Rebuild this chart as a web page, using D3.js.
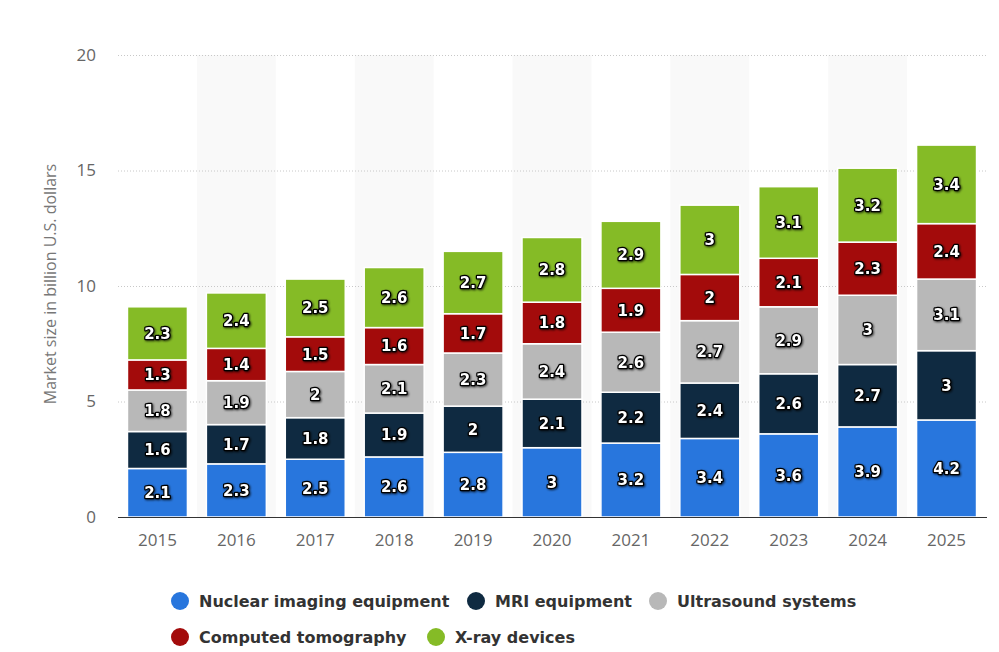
<!DOCTYPE html>
<html><head><meta charset="utf-8">
<script src="https://cdn.jsdelivr.net/npm/d3@7"></script>
<style>
body{margin:0;background:#fff;}
svg{display:block;}
</style></head>
<body><svg id="chart" width="999" height="652"></svg>
<script>
const years = ["2015","2016","2017","2018","2019","2020","2021","2022","2023","2024","2025"];
const seriesNames = ["Nuclear imaging equipment","MRI equipment","Ultrasound systems","Computed tomography","X-ray devices"];
const nuclear = [2.1,2.3,2.5,2.6,2.8,3,3.2,3.4,3.6,3.9,4.2];
const mri = [1.6,1.7,1.8,1.9,2,2.1,2.2,2.4,2.6,2.7,3];
const ultrasound = [1.8,1.9,2,2.1,2.3,2.4,2.6,2.7,2.9,3,3.1];
const ct = [1.3,1.4,1.5,1.6,1.7,1.8,1.9,2,2.1,2.3,2.4];
const xray = [2.3,2.4,2.5,2.6,2.7,2.8,2.9,3,3.1,3.2,3.4];
const yTicks = [0,5,10,15,20];
const colors = ["#2876dd","#0f2a41","#b8b8b8","#a30b0b","#85bb26"];

(function(){
const seriesValues = [nuclear, mri, ultrasound, ct, xray];
const table = years.map((yr,i)=>{const o={year:yr}; seriesNames.forEach((s,j)=>o[s]=seriesValues[j][i]); return o;});

const svg = d3.select("#chart");
const defs = svg.append("defs");
const f = defs.append("filter").attr("id","sh").attr("x","-20%").attr("y","-30%").attr("width","140%").attr("height","160%");
f.append("feDropShadow").attr("dx",1).attr("dy",1).attr("stdDeviation",1).attr("flood-color","#000").attr("flood-opacity",0.7);

const pl=118,pr=987,pt=55,pb=517;
const x = d3.scaleBand().domain(years).range([pl,pr-1]).paddingInner(0.24).paddingOuter(0.12);
const y = d3.scaleLinear().domain([0,20]).range([pb,pt]);

const step = x.step();
svg.append("g").selectAll("rect").data(years.filter((d,i)=>i%2===1)).join("rect")
  .attr("x",d=>x(d)-(step-x.bandwidth())/2).attr("width",step)
  .attr("y",pt).attr("height",pb-pt).attr("fill","#f9f9f9");

svg.append("g").selectAll("line").data(yTicks.filter(t=>t>0)).join("line")
  .attr("x1",pl).attr("x2",pr).attr("y1",d=>y(d)+0.5).attr("y2",d=>y(d)+0.5)
  .attr("stroke","#c8c8c8").attr("stroke-width",1).attr("stroke-dasharray","1,2");

svg.append("g").selectAll("text").data(yTicks).join("text")
  .attr("x",96).attr("y",d=>y(d)).attr("dy","0.35em").attr("text-anchor","end")
  .attr("font-family","'Open Sans', sans-serif").attr("font-size",17).attr("fill","#666")
  .text(d=>d);

svg.append("text").attr("transform",`translate(56,${(pt+pb)/2-2}) rotate(-90)`)
  .attr("text-anchor","middle").attr("font-family","'Open Sans', sans-serif")
  .attr("font-size",16).attr("fill","#777").text("Market size in billion U.S. dollars");

const stack = d3.stack().keys(seriesNames)(table);
const g = svg.append("g");
stack.forEach((layer,j)=>{
  g.append("g").selectAll("rect").data(layer).join("rect")
    .attr("x",d=>x(d.data.year)).attr("width",x.bandwidth())
    .attr("y",d=>y(d[1])).attr("height",d=>y(d[0])-y(d[1]))
    .attr("fill",colors[j]).attr("stroke","#fff").attr("stroke-width",1.5);
});
stack.forEach((layer,j)=>{
  g.append("g").attr("filter","url(#sh)").selectAll("text").data(layer).join("text")
    .attr("x",d=>x(d.data.year)+x.bandwidth()/2)
    .attr("y",d=>(y(d[0])+y(d[1]))/2).attr("dy","0.36em")
    .attr("text-anchor","middle").attr("font-family","'DejaVu Sans', sans-serif")
    .attr("font-weight",700).attr("font-size",15).attr("fill","#fff")
    .attr("stroke","#000").attr("stroke-width",2.5).attr("stroke-linejoin","round")
    .attr("paint-order","stroke")
    .text(d=>d.data[seriesNames[j]]);
});

svg.append("line").attr("x1",pl).attr("x2",pr).attr("y1",pb+0.5).attr("y2",pb+0.5)
  .attr("stroke","#333").attr("stroke-width",1.2);

svg.append("g").selectAll("text").data(years).join("text")
  .attr("x",d=>x(d)+x.bandwidth()/2).attr("y",546).attr("text-anchor","middle")
  .attr("font-family","'Open Sans', sans-serif").attr("font-size",17).attr("fill","#666")
  .text(d=>d);

const legendPos = [[180,601],[476,601],[658,601],[180,637],[436,637]];
const lg = svg.append("g");
seriesNames.forEach((s,i)=>{
  const [cx,cy]=legendPos[i];
  lg.append("circle").attr("cx",cx).attr("cy",cy).attr("r",9).attr("fill",colors[i]);
  lg.append("text").attr("x",cx+19).attr("y",cy).attr("dy","0.35em")
    .attr("font-family","'DejaVu Sans', sans-serif").attr("font-weight",700)
    .attr("font-size",16).attr("fill","#333").text(s);
});
})();
</script></body></html>
